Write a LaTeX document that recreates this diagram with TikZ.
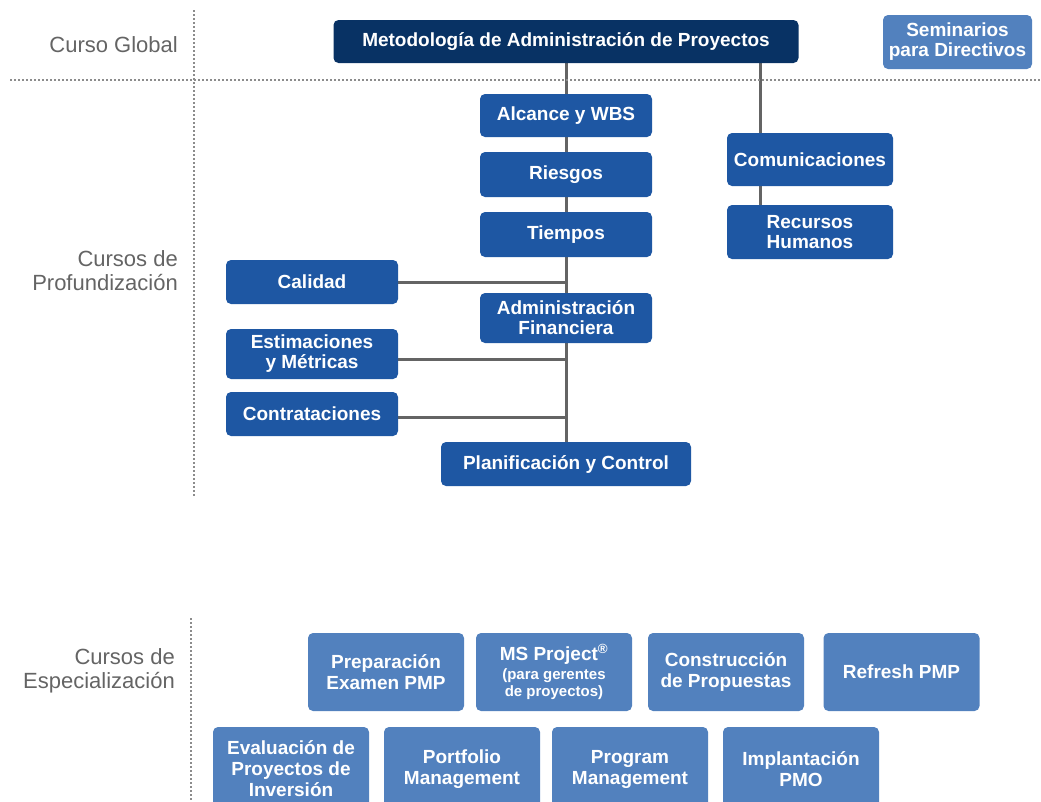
\documentclass[tikz,border=0pt]{standalone}
\usepackage{fontspec}
\setmainfont{Liberation Sans}
\usetikzlibrary{backgrounds}
\definecolor{navy}{RGB}{8,50,100}
\definecolor{midblue}{RGB}{30,87,163}
\definecolor{lightblue}{RGB}{82,129,190}
\definecolor{linegray}{RGB}{100,100,100}
\definecolor{labelgray}{RGB}{100,100,100}
\definecolor{dotgray}{RGB}{140,140,140}

\begin{document}
\begin{tikzpicture}[x=1pt, y=-1pt,
	box/.style={shape=rectangle, rounded corners=5pt, inner sep=0, align=center, text=white, font=\bfseries\fontsize{19}{20}\selectfont},
	mainbox/.style={box, fill=navy, minimum width=465pt, minimum height=43pt},
	deepbox/.style={box, fill=midblue, minimum width=172pt},
	specbox/.style={box, fill=lightblue, minimum width=156pt, font=\bfseries\fontsize{19}{21}\selectfont},
	rowlabel/.style={anchor=east, align=right, inner sep=0, text=labelgray, font=\fontsize{22}{24}\selectfont},
	link/.style={draw=linegray, line width=3pt},
	sep/.style={draw=dotgray, line width=2pt, dash pattern=on 2pt off 2pt}]
	\useasboundingbox (0, 0) rectangle (1041, 801);
	% Section separators and row labels:
	\draw[sep] (10, 80) -- (1041, 80);
	\draw[sep] (194, 10) -- (194, 497);
	\draw[sep] (191, 618) -- (191, 801);
	\node[rowlabel] (LblGlobal) at (178, 45) {Curso Global};
	\node[rowlabel] (LblProf) at (178, 271) {Cursos de\\Profundización};
	\node[rowlabel] (LblEsp) at (175, 671) {Cursos de\\Especialización};
	% Global course and seminars:
	\node[mainbox] (Meto) at (566, 41.5) {Metodología de Administración de Proyectos};
	\node[box, fill=lightblue, minimum width=149pt, minimum height=54pt] (Semi) at (957.5, 42) {Seminarios\\para Directivos};
	% Deepening courses:
	\node[deepbox, minimum height=43pt] (Alcance) at (566, 115.5) {Alcance y WBS};
	\node[deepbox, minimum height=45pt] (Riesgos) at (566, 174.5) {Riesgos};
	\node[deepbox, minimum height=45pt] (Tiempos) at (566, 234.5) {Tiempos};
	\node[deepbox, minimum height=50pt] (Finanzas) at (566, 318) {Administración\\Financiera};
	\node[deepbox, minimum width=250pt, minimum height=44pt] (Planif) at (566, 464) {Planificación y Control};
	\node[deepbox, minimum height=44pt] (Calidad) at (312, 282) {Calidad};
	\node[deepbox, minimum height=50pt] (Estim) at (312, 354) {Estimaciones\\y Métricas};
	\node[deepbox, minimum height=44pt] (Contrat) at (312, 414) {Contrataciones};
	\node[deepbox, minimum width=166pt, minimum height=53pt] (Comun) at (810, 159.5) {Comunicaciones};
	\node[deepbox, minimum width=166pt, minimum height=54pt] (RRHH) at (810, 232) {Recursos\\Humanos};
	\coordinate (RJoin) at ([xshift=-50pt]Comun.north);
	\begin{scope}[on background layer]
		\draw[link] (Meto.south) -- (Planif.north);
		\draw[link] (RJoin |- Meto.south) -- ([xshift=-50pt]RRHH.north);
		\draw[link] (Calidad.east) -- (Calidad.east -| Meto.south);
		\draw[link] ([yshift=-5pt]Estim.east) -- ([yshift=-5pt]Estim.east -| Meto.south);
		\draw[link] ([yshift=-3pt]Contrat.east) -- ([yshift=-3pt]Contrat.east -| Meto.south);
	\end{scope}
	% Specialization courses:
	\node[specbox, minimum height=78pt] (PrepPMP) at (386, 672) {Preparación\\Examen PMP};
	\node[specbox, minimum height=78pt] (MSProj) at (554, 672) {MS Project\textsuperscript{®}\\[-2pt]{\fontsize{15}{15}\selectfont(para gerentes}\\[-4pt]{\fontsize{15}{15}\selectfont de proyectos)}};
	\node[specbox, minimum height=78pt] (Propuestas) at (726, 672) {Construcción\\de Propuestas};
	\node[specbox, minimum height=78pt] (Refresh) at (901.5, 672) {Refresh PMP};
	\node[specbox, minimum height=84pt] (Evaluacion) at (291, 769) {Evaluación de\\Proyectos de\\Inversión};
	\node[specbox, minimum height=84pt] (Portfolio) at (462, 769) {Portfolio\\Management};
	\node[specbox, minimum height=84pt] (Program) at (630, 769) {Program\\Management};
	\node[specbox, minimum height=84pt] (PMO) at (801, 769) {Implantación\\PMO};
\end{tikzpicture}
\end{document}
